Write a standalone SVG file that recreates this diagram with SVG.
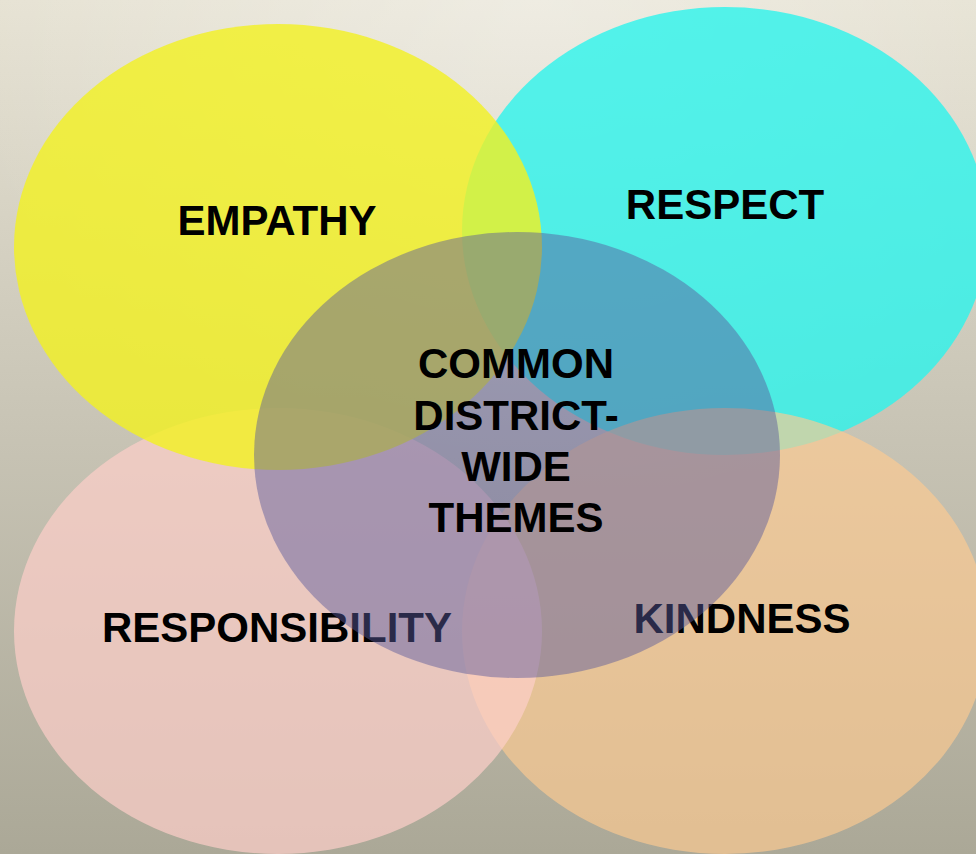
<svg xmlns="http://www.w3.org/2000/svg" width="976" height="854" viewBox="0 0 976 854">
  <defs>
    <linearGradient id="bg" x1="0" y1="0" x2="0" y2="1">
      <stop offset="0" stop-color="#E6E2D3"/>
      <stop offset="0.5" stop-color="#C8C4B5"/>
      <stop offset="1" stop-color="#ABA897"/>
    </linearGradient>
    <radialGradient id="glow" cx="0.55" cy="0" r="0.6">
      <stop offset="0" stop-color="#FFFFFF" stop-opacity="0.35"/>
      <stop offset="1" stop-color="#FFFFFF" stop-opacity="0"/>
    </radialGradient>
  </defs>
  <style>
    .lbl { font-family: "Liberation Sans", Arial, sans-serif; font-weight: bold; font-size: 42px; fill: #000000; text-anchor: middle; }
    .cyan { fill: #2CF4EC; fill-opacity: 0.8; }
    .orange { fill: #FFCB91; fill-opacity: 0.65; }
    .pink { fill: #FDCEC9; fill-opacity: 0.7; }
    .yellow { fill: #F3F121; fill-opacity: 0.8; }
    .center { fill: #5A5A9C; fill-opacity: 0.47; }
  </style>
  <rect x="0" y="0" width="976" height="854" fill="url(#bg)"/>
  <rect x="0" y="0" width="976" height="854" fill="url(#glow)"/>
  <g id="connectors"/>
  <g id="respect">
    <ellipse class="cyan" cx="725" cy="231" rx="263" ry="224"/>
    <text class="lbl" x="725" y="219">RESPECT</text>
  </g>
  <g id="kindness">
    <ellipse class="orange" cx="725" cy="631" rx="263" ry="223"/>
    <text class="lbl" x="742" y="633">KINDNESS</text>
  </g>
  <g id="responsibility">
    <ellipse class="pink" cx="278" cy="631" rx="264" ry="223"/>
    <text class="lbl" x="277" y="642">RESPONSIBILITY</text>
  </g>
  <g id="empathy">
    <ellipse class="yellow" cx="278" cy="247" rx="264" ry="223"/>
    <text class="lbl" x="277" y="235">EMPATHY</text>
  </g>
  <g id="common-themes">
    <ellipse class="center" cx="517" cy="455" rx="263" ry="223"/>
    <text class="lbl" x="516" y="378">COMMON</text>
    <text class="lbl" x="516" y="430">DISTRICT-</text>
    <text class="lbl" x="516" y="481">WIDE</text>
    <text class="lbl" x="516" y="532">THEMES</text>
  </g>
</svg>
